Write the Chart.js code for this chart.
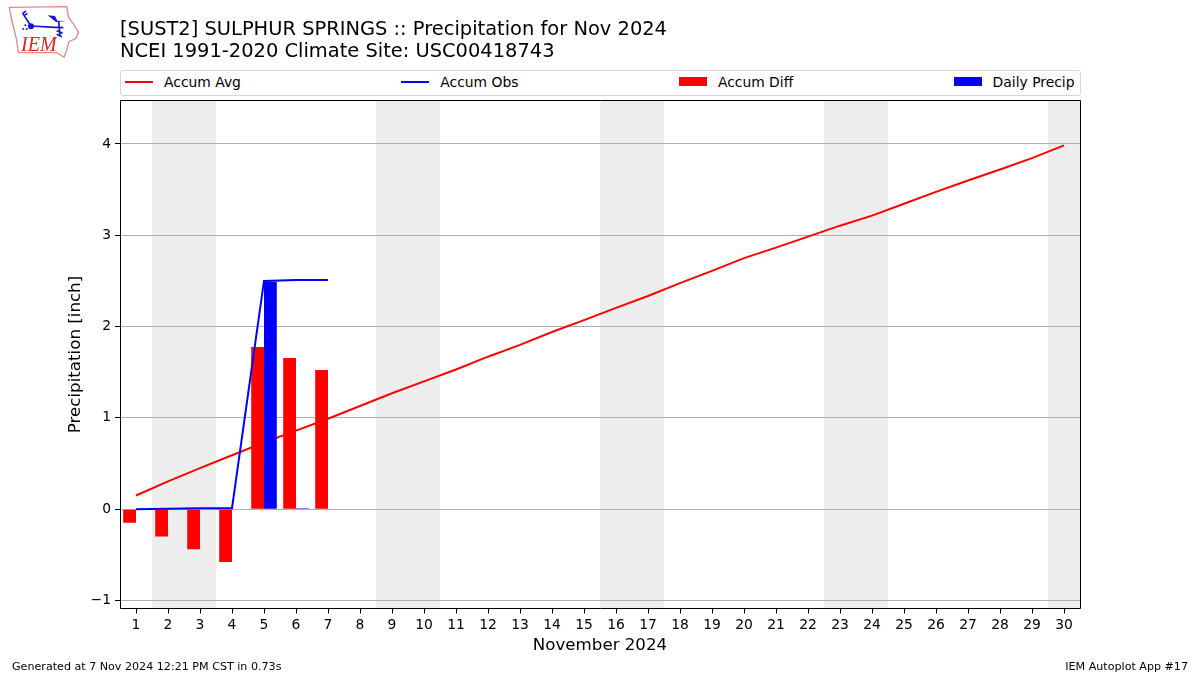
<!DOCTYPE html>
<html><head><meta charset="utf-8">
<script src="https://cdn.jsdelivr.net/npm/chart.js@4"></script>
<style>
html,body{margin:0;padding:0;background:#fff;width:1200px;height:675px;overflow:hidden}
#wrap{position:relative;width:1200px;height:675px}
canvas{position:absolute;left:0;top:0}
.foot{position:absolute;font:11.11px "DejaVu Sans";color:#000;top:660px;line-height:13px;white-space:nowrap}
#logo{position:absolute;left:0;top:0}
#legend{position:absolute;left:120px;top:70px;width:949.5px;height:21px;padding:0 5.5px 3px 4px;border:1px solid #d6d6d6;border-radius:3px;display:flex;justify-content:space-between;align-items:center;font:13.89px "DejaVu Sans";color:#000;background:#fff}
#legend .it{display:flex;align-items:center;white-space:nowrap}
#legend .sw{display:block;width:28px;margin-right:11px}
</style></head><body>
<div id="wrap">
<canvas id="c" width="1200" height="675"></canvas>
<svg id="logo" width="90" height="65" viewBox="0 0 270 195">
<path d="M28 22 L200 20 L205 50 L222 75 L235 97 L228 115 L207 125 L200 150 L192 172 L170 158 L55 158 L50 120 L35 60 Z" fill="#fff" stroke="#e08a8a" stroke-width="4"/>
<g stroke="#1414d8" fill="none" stroke-width="5">
<path d="M93 78 L68 40 M68 40 L78 33 M72 47 L82 40 M93 78 L165 82 L190 83 M176 64 L180 110 M170 92 L188 100 M170 103 L186 110"/>
</g>
<circle cx="93" cy="79" r="9" fill="#1414d8"/>
<path d="M143 46 L165 48 L172 62 L200 63 L168 66 Z" fill="#1414d8"/>
<circle cx="76" cy="76" r="3" fill="#1414d8"/><circle cx="70" cy="87" r="3" fill="#1414d8"/><circle cx="80" cy="87" r="3" fill="#1414d8"/>
<text x="63" y="154" font-family="Liberation Serif" font-style="italic" font-size="60" fill="#d8262c">IEM</text>
</svg>
<div id="legend"></div>
<div class="foot" style="left:12px">Generated at 7 Nov 2024 12:21 PM CST in 0.73s</div>
<div class="foot" style="right:12px">IEM Autoplot App #17</div>
</div>
<script>
const days=[1,2,3,4,5,6,7,8,9,10,11,12,13,14,15,16,17,18,19,20,21,22,23,24,25,26,27,28,29,30];
const accumAvg=[0.15,0.305,0.45,0.59,0.73,0.86,0.99,1.13,1.27,1.40,1.53,1.67,1.80,1.94,2.07,2.205,2.335,2.475,2.61,2.75,2.865,2.985,3.105,3.215,3.345,3.475,3.60,3.72,3.845,3.985];
const accumObs=[0,0.005,0.01,0.01,2.50,2.51,2.51];
const accumDiff=[-0.15,-0.30,-0.44,-0.58,1.775,1.655,1.525];
const dailyPrecip=[0,0.005,0.005,0,2.49,0.01,0];
const yTickValues=[-1,0,1,2,3,4];
const weekends=[[1.5,3.5],[8.5,10.5],[15.5,17.5],[22.5,24.5],[29.5,30.5]];
const titleLines=["[SUST2] SULPHUR SPRINGS :: Precipitation for Nov 2024","NCEI 1991-2020 Climate Site: USC00418743"];
const xLabel="November 2024", yLabel="Precipitation [inch]";
const legendNames=["Accum Avg","Accum Obs","Accum Diff","Daily Precip"];
const FONT='"DejaVu Sans"';
const pts=(a)=>a.map((v,i)=>({x:days[i],y:v}));
const frame={id:'frame',
 beforeDraw(ch){const {ctx,chartArea:a,scales:{x}}=ch;ctx.save();ctx.fillStyle='#ededed';
  weekends.forEach(w=>{const l=x.getPixelForValue(w[0]),r=x.getPixelForValue(w[1]);ctx.fillRect(l,a.top,r-l,a.bottom-a.top);});
  ctx.restore();},
 afterDraw(ch){const {ctx,chartArea:a}=ch;ctx.save();ctx.strokeStyle='#000';ctx.lineWidth=1;ctx.beginPath();
  const l=Math.floor(a.left)+.5,t=Math.floor(a.top)+.5,r=Math.floor(a.right)+.5,b=Math.floor(a.bottom)+.5;
  ctx.moveTo(l,b);ctx.lineTo(l,t);ctx.lineTo(r,t);ctx.lineTo(r,b);ctx.closePath();ctx.stroke();ctx.restore();}};
const htmlLegend={id:'htmlLegend',
 afterInit(ch){const box=document.getElementById('legend');
  ch.data.datasets.forEach(d=>{const it=document.createElement('div');it.className='it';
   const sw=document.createElement('span');sw.className='sw';sw.style.height=d.type==='line'?'2px':'9px';sw.style.background=d.type==='line'?d.borderColor:d.backgroundColor;
   const tx=document.createElement('span');tx.textContent=d.label;it.append(sw,tx);box.append(it);});}};
new Chart(document.getElementById('c'),{
 type:'bar',
 data:{datasets:[
  {type:'line',label:legendNames[0],data:pts(accumAvg),borderColor:'#ff0000',backgroundColor:'#ff0000',borderWidth:2,pointRadius:0,tension:0,order:3},
  {type:'line',label:legendNames[1],data:pts(accumObs),borderColor:'#0000ff',backgroundColor:'#0000ff',borderWidth:2,pointRadius:0,tension:0,order:0},
  {type:'bar',label:legendNames[2],data:pts(accumDiff),backgroundColor:'#ff0000',barPercentage:1,categoryPercentage:.8,order:1},
  {type:'bar',label:legendNames[3],data:pts(dailyPrecip),backgroundColor:'#0000ff',barPercentage:1,categoryPercentage:.8,order:2}
 ]},
 plugins:[frame,htmlLegend],
 options:{responsive:false,animation:false,
  layout:{padding:{left:0,right:120,top:0,bottom:19.5}},
  scales:{
   x:{type:'linear',min:.5,max:30.5,offset:false,
    afterBuildTicks(s){s.ticks=days.map(v=>({value:v}));},
    afterFit(s){s.height=47;},
    grid:{offset:false,drawOnChartArea:false,drawTicks:true,tickLength:5,tickColor:'#000',tickWidth:1},
    border:{display:false},
    ticks:{autoSkip:false,maxRotation:0,padding:3.5,color:'#000',font:{family:FONT,size:13.89},callback:v=>String(v)},
    title:{display:true,text:xLabel,color:'#000',font:{family:FONT,size:16.67},padding:{top:2,bottom:0}}},
   y:{type:'linear',min:-1.088,max:4.476,
    afterBuildTicks(s){s.ticks=yTickValues.map(v=>({value:v}));},
    afterFit(s){s.width=120;},
    grid:{color:'#b0b0b0',lineWidth:1,drawTicks:true,tickLength:5,tickColor:'#000',tickWidth:1},
    border:{display:false},
    ticks:{padding:4,color:'#000',font:{family:FONT,size:13.89},callback:v=>v<0?'\u2212'+Math.abs(v):String(v)},
    title:{display:true,text:yLabel,color:'#000',font:{family:FONT,size:16.67},padding:{top:66,bottom:0}}}
  },
  plugins:{
   tooltip:{enabled:false},
   title:{display:true,text:titleLines,align:'start',fullSize:false,color:'#000',font:{family:FONT,size:19.44,weight:'normal',lineHeight:1.1},padding:{top:19.5,bottom:38.23}},
   legend:{display:false}
  }
 }
});
</script>
</body></html>
